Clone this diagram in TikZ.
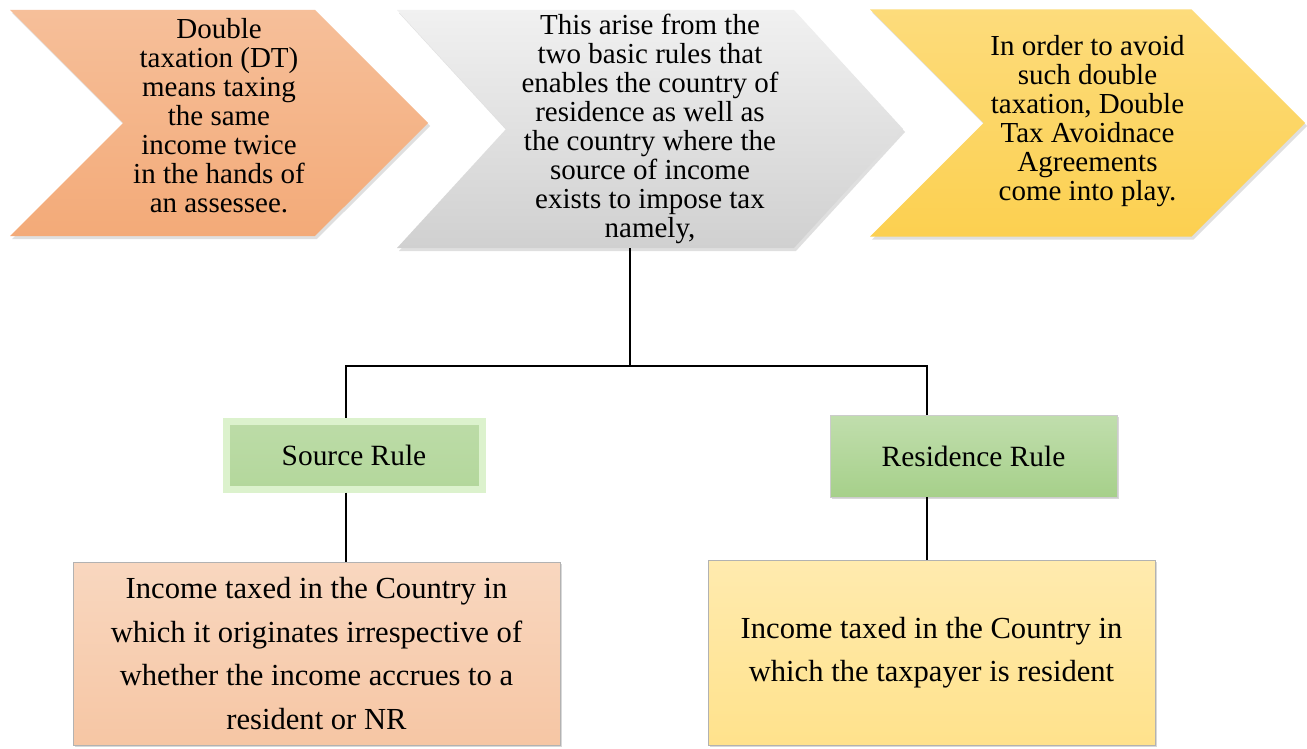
\documentclass[tikz,border=0pt]{standalone}
\usepackage{fontspec}
\setmainfont{Liberation Serif}
\usetikzlibrary{shapes.symbols,shadows}
\definecolor{ink}{RGB}{0,0,0}
\definecolor{peach}{RGB}{243,170,120}
\definecolor{peachlt}{RGB}{246,198,164}
\definecolor{silver}{RGB}{208,208,208}
\definecolor{gold}{RGB}{252,208,80}
\definecolor{goldlt}{RGB}{255,226,140}
\definecolor{leaf}{RGB}{166,208,138}
\definecolor{leaflt}{RGB}{220,242,205}
\tikzset{
  chev/.style={shape=signal,signal from=west,signal to=east,signal pointer angle=90,
    draw=none,inner sep=2pt,align=center,text=ink,
    font=\fontsize{14.5}{14.5}\selectfont,
    drop shadow={opacity=0.25,shadow xshift=1pt,shadow yshift=-1.5pt}},
  rulebox/.style={rectangle,align=center,text=ink,
    font=\fontsize{14.7}{16}\selectfont},
  infobox/.style={rectangle,align=center,text=ink,draw=white!70!black,line width=0.3pt,
    font=\fontsize{15.3}{21.75}\selectfont,
    drop shadow={opacity=0.3,shadow xshift=0.8pt,shadow yshift=-1.2pt}},
  link/.style={draw=ink,line width=0.7pt},
}
\begin{document}
\begin{tikzpicture}[x=0.5pt,y=-0.5pt]
  \useasboundingbox[fill=white] (0,0) rectangle (1307,749);
  % the three chevrons
  \node[chev,minimum width=209pt,minimum height=113pt,
    top color=peach!75!white,bottom color=peach] (dt) at (219,123)
    {Double\\taxation (DT)\\means taxing\\the same\\income twice\\in the hands of\\an assessee.\\[-6.5pt]\mbox{}};
  \node[chev,minimum width=253pt,minimum height=119pt,signal pointer angle=95,
    top color=silver!30!white,bottom color=silver] (arise) at (650,129)
    {This arise from the\\two basic rules that\\enables the country of\\residence as well as\\the country where the\\source of income\\exists to impose tax\\namely,};
  \node[chev,minimum width=217.5pt,minimum height=113.5pt,
    top color=gold!75!white,bottom color=gold] (dtaa) at (1087.5,123)
    {In order to avoid\\such double\\taxation, Double\\Tax Avoidnace\\Agreements\\come into play.\\[-9.5pt]\mbox{}};
  % the two rules
  \node[rulebox,minimum width=128pt,minimum height=34pt,draw=leaflt,line width=3.5pt,
    top color=leaf!75!white,bottom color=leaf!85!white] (src) at (354,455) {Source Rule};
  \node[rulebox,minimum width=143.5pt,minimum height=41pt,draw=white!80!black,line width=0.3pt,
    top color=leaf!70!white,bottom color=leaf,
    drop shadow={opacity=0.3,shadow xshift=0.8pt,shadow yshift=-1.2pt}] (res) at (973.5,456) {Residence Rule};
  % what each rule means
  \node[infobox,minimum width=243.5pt,minimum height=91.5pt,
    top color=peachlt!70!white,bottom color=peachlt] (srcbox) at (316.5,653.5)
    {Income taxed in the Country in\\which it originates irrespective of\\whether the income accrues to a\\resident or NR};
  \node[infobox,minimum width=223.5pt,minimum height=92.5pt,
    top color=goldlt!70!white,bottom color=goldlt] (resbox) at (931.5,652.5)
    {Income taxed in the Country in\\which the taxpayer is resident};
  % connectors
  \coordinate (fork) at (630,366);
  \draw[link] ([xshift=-10pt]arise.south) -- (fork);
  \draw[link] ([xshift=-4pt]src.north) |- (fork) -| ([xshift=-23.25pt]res.north);
  \draw[link] ([xshift=-4pt]src.south) -- ([xshift=-4pt]src.south |- srcbox.north);
  \draw[link] ([xshift=-23.25pt]res.south) -- ([xshift=-23.25pt]res.south |- resbox.north);
\end{tikzpicture}
\end{document}
